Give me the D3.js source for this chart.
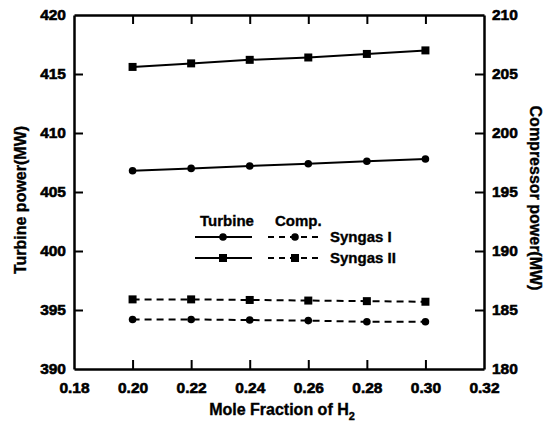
<!DOCTYPE html>
<html>
<head>
<meta charset="utf-8">
<script src="https://cdn.jsdelivr.net/npm/d3@7"></script>
<style>
  body { margin: 0; background: #fff; }
</style>
</head>
<body>
<script>
// mole fraction of H2
var moleFraction = [0.20, 0.22, 0.24, 0.26, 0.28, 0.30];
// turbine power (MW), left axis
var turbineSyngas1 = [406.8, 407.0, 407.2, 407.4, 407.6, 407.8];
var turbineSyngas2 = [415.6, 415.9, 416.2, 416.4, 416.7, 417.0];
// compressor power (MW), right axis
var compSyngas1 = [184.2, 184.2, 184.15, 184.1, 184.0, 184.0];
var compSyngas2 = [185.9, 185.9, 185.85, 185.8, 185.75, 185.7];

var xTicks = [0.18, 0.20, 0.22, 0.24, 0.26, 0.28, 0.30, 0.32];
var yLeftTicks = [390, 395, 400, 405, 410, 415, 420];
var yRightTicks = [180, 185, 190, 195, 200, 205, 210];

var FONT = "'Liberation Sans', Arial, sans-serif";
var W = 555, H = 424;
var margin = {top: 15, right: 71, bottom: 55, left: 74};
var width = W - margin.left - margin.right;
var height = H - margin.top - margin.bottom;

var x = d3.scaleLinear().domain([0.18, 0.32]).range([0, width]);
var yL = d3.scaleLinear().domain([390, 420]).range([height, 0]);
var yR = d3.scaleLinear().domain([180, 210]).range([height, 0]);

var svg = d3.select("body").append("svg")
    .attr("width", W)
    .attr("height", H)
  .append("g")
    .attr("transform", `translate(${margin.left},${margin.top})`);

function label(sel, size, sw) {
  return sel.style("font-family", FONT).style("font-weight", "bold")
    .style("font-size", size + "px").style("fill", "#000")
    .style("stroke", "#000").style("stroke-width", (sw || 0.35) + "px");
}

function styleAxis(g) {
  g.select(".domain").attr("stroke-width", 2.5);
  g.selectAll(".tick line").attr("stroke-width", 2);
  g.selectAll(".tick text").call(label, 15.5, 0.6);
}

// bottom axis
svg.append("g")
    .attr("transform", `translate(0,${height})`)
    .call(d3.axisBottom(x).tickValues(xTicks).tickFormat(d3.format(".2f"))
      .tickSizeInner(-9).tickSizeOuter(0).tickPadding(13))
    .call(styleAxis);

// top border with ticks
svg.append("g")
    .call(d3.axisTop(x).tickValues(xTicks).tickFormat("")
      .tickSizeInner(-9).tickSizeOuter(0))
    .call(styleAxis);

svg.append("g")
    .call(d3.axisLeft(yL).tickValues(yLeftTicks)
      .tickSizeInner(-9).tickSizeOuter(0).tickPadding(8))
    .call(styleAxis);

svg.append("g")
    .attr("transform", `translate(${width},0)`)
    .call(d3.axisRight(yR).tickValues(yRightTicks)
      .tickSizeInner(-9).tickSizeOuter(0).tickPadding(8))
    .call(styleAxis);

// no tick marks in the corners
svg.selectAll(".tick").filter(d => d === 0.18 || d === 0.32 || d === 390 || d === 420 || d === 180 || d === 210)
  .select("line").remove();

// axis titles
var xt = svg.append("text")
    .attr("x", width / 2 + 3)
    .attr("y", height + 46)
    .attr("text-anchor", "middle")
    .call(label, 16)
    .text("Mole Fraction of H");
xt.append("tspan")
    .style("font-size", "11px")
    .attr("dy", 5)
    .text("2");

svg.append("text")
    .attr("transform", `translate(${-48},${height / 2 + 8}) rotate(-90)`)
    .attr("text-anchor", "middle")
    .call(label, 16)
    .text("Turbine power(MW)");

svg.append("text")
    .attr("transform", `translate(${width + 46},${height / 2 + 6}) rotate(90)`)
    .attr("text-anchor", "middle")
    .call(label, 16)
    .text("Compressor power(MW)");

var series = [
  {vals: turbineSyngas1, y: yL, dash: null, marker: "circle"},
  {vals: turbineSyngas2, y: yL, dash: null, marker: "square"},
  {vals: compSyngas1, y: yR, dash: "7,5", marker: "circle"},
  {vals: compSyngas2, y: yR, dash: "7,5", marker: "square"}
];

function drawMarker(g, type, cx, cy) {
  if (type === "circle") {
    g.append("circle").attr("cx", cx).attr("cy", cy).attr("r", 3.8).attr("fill", "#000");
  } else {
    g.append("rect").attr("x", cx - 4).attr("y", cy - 4).attr("width", 8).attr("height", 8).attr("fill", "#000");
  }
}

series.forEach(function(s) {
  var pts = moleFraction.map((m, i) => [x(m), s.y(s.vals[i])]);
  svg.append("path")
      .datum(pts)
      .attr("fill", "none")
      .attr("stroke", "#000")
      .attr("stroke-width", 2)
      .attr("stroke-dasharray", s.dash)
      .attr("d", d3.line());
  var mg = svg.append("g");
  pts.forEach(p => drawMarker(mg, s.marker, p[0], p[1]));
});

// legend
var lg = svg.append("g");
lg.append("text").attr("x", 126).attr("y", 211).call(label, 15).text("Turbine");
lg.append("text").attr("x", 201).attr("y", 211).call(label, 15).text("Comp.");
[{marker: "circle", label: "Syngas I", y: 222}, {marker: "square", label: "Syngas II", y: 243}].forEach(function(r) {
  lg.append("line").attr("x1", 121).attr("x2", 178).attr("y1", r.y).attr("y2", r.y)
    .attr("stroke", "#000").attr("stroke-width", 2);
  drawMarker(lg, r.marker, 149, r.y);
  lg.append("line").attr("x1", 194).attr("x2", 249).attr("y1", r.y).attr("y2", r.y)
    .attr("stroke", "#000").attr("stroke-width", 2).attr("stroke-dasharray", "6,5");
  drawMarker(lg, r.marker, 221, r.y);
  lg.append("text").attr("x", 256).attr("y", r.y + 5).call(label, 15).text(r.label);
});
</script>
</body>
</html>
